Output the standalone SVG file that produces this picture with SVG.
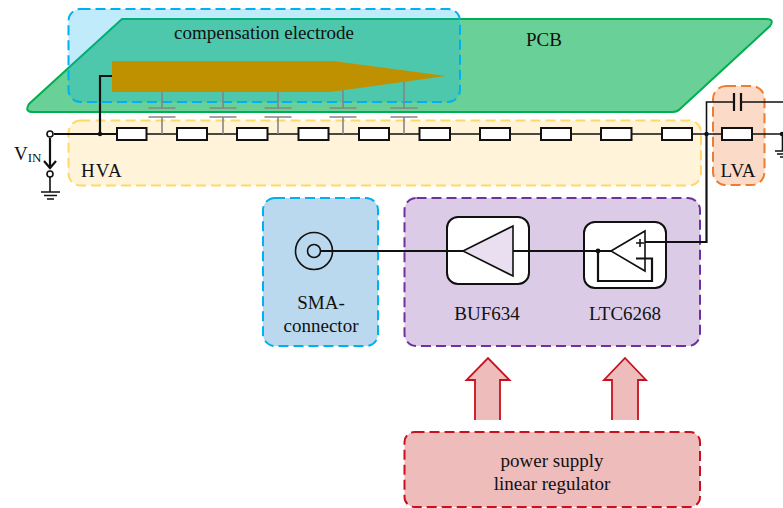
<svg xmlns="http://www.w3.org/2000/svg" width="783" height="508" viewBox="0 0 783 508">
<style>
text{font-family:"Liberation Serif","Times New Roman",serif;fill:#111;font-size:19px}
.m{text-anchor:middle}
.reg{stroke-width:2;stroke-dasharray:10 5}
.w{fill:none;stroke:#111;stroke-width:1.6}
.b{fill:none;stroke:#111;stroke-width:2.200}
.r{fill:#fff;stroke:#111;stroke-width:2}
.c{fill:none;stroke:#858585;stroke-width:1.6}
.t{fill:#fff;stroke:#111;stroke-width:1.6}
.box{fill:#fff;stroke:#111;stroke-width:2}
.ar{fill:#efbcbc;stroke:#c8101e;stroke-width:1.800}
</style>
<g id="hva"><rect class="reg" x="68.500" y="120.500" width="632.500" height="65" rx="12" fill="#fff3d9" stroke="#ffd966"/><text x="81" y="177" letter-spacing="1">HVA</text></g>
<g id="lva"><rect class="reg" x="713" y="86" width="51.500" height="99" rx="13" fill="#fbdac8" stroke="#ed7d31"/><text class="m" x="738" y="177">LVA</text></g>
<g id="pcb"><path d="M122 19H766Q775 19 770 26L680 109Q677 112 673 112H33Q24 112 29 104Z" fill="#69d197" stroke="#00b050" stroke-width="2"/><text class="m" x="544" y="46">PCB</text></g>
<g id="compensation-electrode"><rect x="68.500" y="9" width="391.500" height="93" rx="12" fill="#00b0f0" fill-opacity=".25" stroke="#00b0f0" stroke-width="2" stroke-dasharray="10 5"/><text class="m" x="264" y="39">compensation electrode</text><path d="M112 61H333L446 76L330 92H112Z" fill="#bf9000"/></g>
<g id="sma-connector"><rect class="reg" x="263" y="198" width="115" height="148" rx="12" fill="#bbd9ee" stroke="#00b0f0"/><circle cx="314" cy="251" r="18.500" class="w"/><circle cx="314" cy="251" r="6.500" class="w"/><text class="m" x="321" y="309">SMA-</text><text class="m" x="321" y="332">connector</text></g>
<g id="amplifiers"><rect class="reg" x="404.500" y="198" width="295.500" height="148" rx="12" fill="#dccbe6" stroke="#7030a0"/>
<g id="buf634"><rect class="box" x="447" y="217" width="82" height="67" rx="11"/><text class="m" x="487" y="320">BUF634</text></g>
<g id="ltc6268"><rect class="box" x="584" y="222" width="82" height="66" rx="11"/><text class="m" x="625" y="320">LTC6268</text></g></g>
<g id="power-supply"><rect class="reg" x="404.500" y="432" width="295.500" height="75" rx="10" fill="#efbcbc" stroke="#c8101e"/><text class="m" x="552" y="467">power supply</text><text class="m" x="552" y="490">linear regulator</text></g>
<g id="connectors">
<path class="b" d="M54 134H117M100 134V76H112"/>
<path class="w" d="M146 134H177M207 134H237M268 134H298M328 134H359M389 134H419M450 134H480M510 134H540M571 134H601M632 134H662M692 134H722M752 134H783"/>
<path class="c" d="M162 92V108M148.500 108H175.500M148.500 117H175.500M162 117V134M223 92V108M209.500 108H236.500M209.500 117H236.500M223 117V134M278 92V108M264.500 108H291.500M264.500 117H291.500M278 117V134M343 90V108M329.500 108H356.500M329.500 117H356.500M343 117V134M404 82V108M390.500 108H417.500M390.500 117H417.500M404 117V134"/>
<g class="r"><rect x="117" y="128" width="29.500" height="12"/><rect x="177" y="128" width="30" height="12"/><rect x="237" y="128" width="30.500" height="12"/><rect x="298.500" y="128" width="30" height="12"/><rect x="359" y="128" width="30" height="12"/><rect x="419.500" y="128" width="30.500" height="12"/><rect x="480" y="128" width="30" height="12"/><rect x="541" y="128" width="30" height="12"/><rect x="601" y="128" width="30.500" height="12"/><rect x="662" y="128" width="30" height="12"/><rect x="722" y="128" width="30" height="12"/></g>
<circle cx="100" cy="134" r="2.200" fill="#111"/><circle cx="706.500" cy="134" r="2.200" fill="#111"/><circle cx="782" cy="134" r="2.200" fill="#111"/>
<path class="w" d="M706.500 134V102H734M741 102H783M782.500 134V151M775 151H783M777 154H783M780 157H783"/>
<path class="b" d="M734 93V111M741 93V111"/>
<path class="b" d="M706.500 134V242H645"/>
<circle class="t" cx="50" cy="134" r="3"/><circle class="t" cx="50" cy="174" r="3"/>
<path class="b" d="M50 138V167M44 161L50 168L56 161"/><path class="w" d="M50 177V192M41 192H60M44 195.500H57M47 199H54"/>
<text x="14" y="160">V<tspan font-size="13" dy="2">IN</tspan></text>
<path class="b" d="M320.500 251H463"/>
<path d="M463 251L513 226V276Z" fill="#e9dff0" stroke="#111" stroke-width="1.600"/>
<path class="b" d="M513 251H611"/>
<circle cx="598" cy="251" r="2.400" fill="#111"/>
<path d="M611 251L645 231V271Z" fill="#fff" stroke="#111" stroke-width="1.600"/>
<path class="b" d="M598 251V281H652V258.500H636"/><path class="w" d="M636 243H644M640 239V247"/>
<path class="ar" d="M475 420V380H466.500L488 358L509.500 380H500V420"/>
<path class="ar" d="M612 420V380H604L625 358L646 380H638V420"/>
</g>
</svg>
